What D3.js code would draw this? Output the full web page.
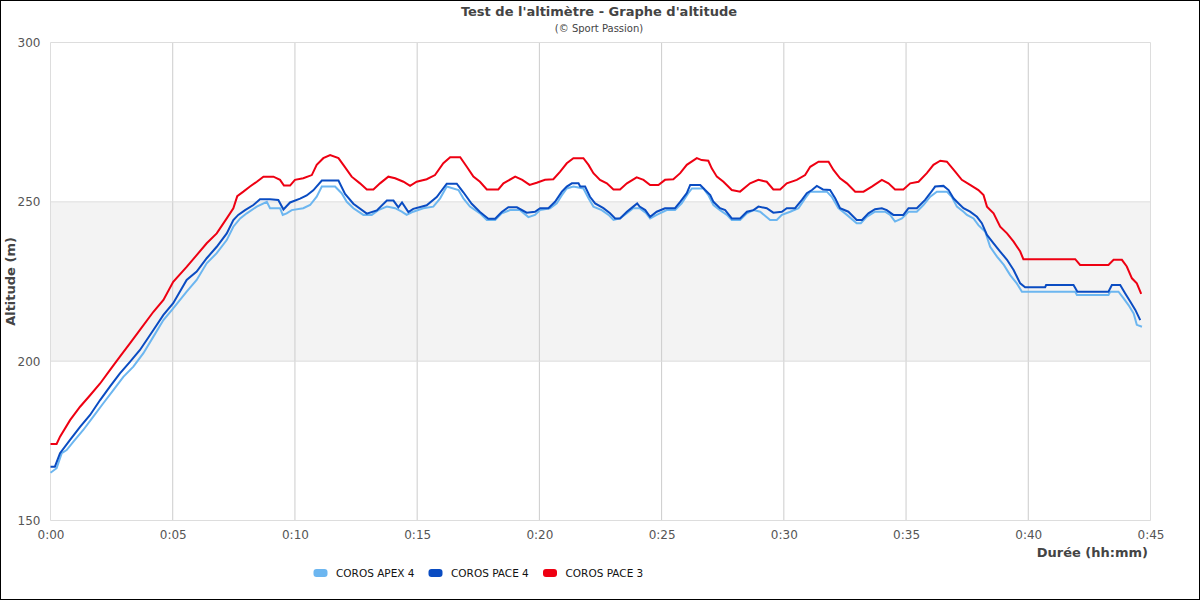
<!DOCTYPE html>
<html><head><meta charset="utf-8">
<script src="https://cdn.jsdelivr.net/npm/d3@7/dist/d3.min.js"></script>
<style>body{margin:0;background:#fff}svg{display:block}</style>
</head><body>
<svg id="chart" width="1200" height="600"></svg>
<script>
const chartTitle = "Test de l'altimètre - Graphe d'altitude";
const chartSubtitle = "(© Sport Passion)";
const seriesNames = ["COROS APEX 4", "COROS PACE 4", "COROS PACE 3"];
const xTicks = [0, 5, 10, 15, 20, 25, 30, 35, 40, 45];
const yTicks = [150, 200, 250, 300];

// [minutes, altitude m]
const apex4 = [[0,165],[0.25,166.4],[0.46,171.1],[0.66,172.1],[0.93,174.7],[1.34,178.4],[1.75,182.6],[2.16,186.8],[2.57,190.9],[2.98,195.1],[3.39,198.3],[3.8,202.5],[4.21,207.7],[4.62,212.9],[5.02,216.6],[5.57,221.8],[5.98,225.5],[6.39,230.7],[6.8,233.9],[7.21,238],[7.48,242.2],[7.76,244.8],[8.03,246.4],[8.44,248.5],[8.85,250],[8.98,248],[9.39,248],[9.5,245.9],[9.66,246.4],[9.87,247.4],[10.34,248],[10.62,249],[10.89,251.6],[11.1,254.8],[11.64,254.8],[11.91,252.7],[12.12,250],[12.39,248],[12.8,245.9],[13.14,245.9],[13.41,247.4],[13.76,248.5],[14.1,248],[14.37,246.9],[14.57,245.9],[14.84,246.9],[15.25,248],[15.66,248.5],[15.94,251.1],[16.21,254.8],[16.69,253.7],[16.89,251.1],[17.16,248.5],[17.57,246.4],[17.85,244.3],[18.19,244.3],[18.46,246.4],[18.8,247.4],[19.21,247.4],[19.55,245.2],[19.82,245.9],[20.03,247.4],[20.44,248],[20.71,249.5],[20.92,252.1],[21.12,254.2],[21.39,254.8],[21.8,254.2],[22.01,251.1],[22.21,248.5],[22.55,247.4],[22.83,245.9],[23.03,244.3],[23.3,244.8],[23.58,246.4],[23.84,248],[24.1,248],[24.37,246.4],[24.53,244.8],[24.8,245.9],[25.21,247.4],[25.55,247.4],[25.82,249.5],[26.09,252.7],[26.24,254.2],[26.71,254.2],[26.91,252.1],[27.12,249],[27.39,247.4],[27.67,245.9],[27.87,244.3],[28.21,244.3],[28.49,246.4],[28.76,247.4],[29.03,246.9],[29.44,244.3],[29.71,244.3],[29.92,245.9],[30.26,246.9],[30.6,248],[30.87,251.1],[31.08,253.2],[31.76,253.2],[31.96,251.6],[32.23,248],[32.58,245.9],[32.98,243.3],[33.15,243.3],[33.39,245.3],[33.73,246.9],[34.14,246.9],[34.35,245.9],[34.55,243.8],[34.83,244.8],[35.1,246.9],[35.44,246.9],[35.71,249],[35.99,251.6],[36.26,253.2],[36.67,253.2],[36.87,251.6],[37.08,248.5],[37.35,246.9],[37.49,245.9],[37.76,244.8],[37.96,242.7],[38.24,240.6],[38.44,235.9],[38.72,232.8],[39,230.2],[39.26,227],[39.53,224.4],[39.74,221.8],[41.92,221.8],[41.99,220.8],[43.28,220.8],[43.35,221.8],[43.69,221.8],[43.9,219.7],[44.1,217.6],[44.31,215],[44.44,211.4],[44.65,210.8]];

const pace4 = [[0,166.9],[0.18,166.9],[0.39,171.1],[0.8,175.3],[1.21,179.4],[1.62,183.1],[2.03,187.8],[2.43,192],[2.84,196.2],[3.25,199.8],[3.66,203.5],[4.21,209.8],[4.62,214.5],[5.02,218.2],[5.57,225.5],[5.98,228.1],[6.39,232.3],[6.8,235.9],[7.21,240.1],[7.48,244.3],[7.68,245.9],[7.96,247.4],[8.3,249],[8.57,250.8],[8.98,250.8],[9.32,250.6],[9.53,247.6],[9.8,249.8],[10.21,251],[10.48,252],[10.75,253.6],[11.1,256.7],[11.78,256.7],[12.05,252.5],[12.39,249.4],[12.94,246.3],[13.35,247.3],[13.76,250.4],[14.03,250.4],[14.23,248.3],[14.38,249.8],[14.64,246.8],[14.84,247.8],[15.39,248.9],[15.8,251.5],[16.21,255.7],[16.62,255.7],[16.89,253],[17.23,249.4],[17.57,246.8],[17.91,244.7],[18.19,244.7],[18.46,246.8],[18.73,248.3],[19.08,248.3],[19.48,246.6],[19.82,246.9],[20.03,248],[20.37,248],[20.64,250],[20.92,253.2],[21.12,254.8],[21.33,255.8],[21.6,255.8],[21.67,254.8],[21.87,254.8],[22.07,251.6],[22.28,249.5],[22.62,248],[22.89,246.4],[23.1,244.8],[23.3,244.8],[23.58,246.9],[23.84,248.5],[24,249.5],[24.1,248.5],[24.33,247.4],[24.53,245.3],[24.8,246.9],[25.14,248],[25.55,248],[25.76,250],[26.03,252.7],[26.17,255.3],[26.58,255.3],[26.78,253.7],[26.99,252.1],[27.12,250],[27.39,248],[27.6,247.4],[27.87,244.8],[28.21,244.8],[28.49,246.9],[28.76,247.4],[28.96,248.5],[29.3,248],[29.57,246.6],[29.92,246.9],[30.12,248],[30.46,248],[30.74,250.6],[30.94,252.7],[31.15,253.7],[31.35,255],[31.6,253.9],[31.89,253.7],[32.1,251.1],[32.3,248],[32.64,246.9],[32.98,244.3],[33.2,244.3],[33.46,246.4],[33.73,247.7],[34.01,248],[34.21,247.4],[34.48,245.9],[34.89,245.9],[35.1,248],[35.44,248],[35.78,250.6],[35.99,252.7],[36.19,254.8],[36.53,255],[36.74,253.7],[36.94,251.1],[37.15,249.5],[37.35,248],[37.62,246.9],[37.9,245.3],[38.1,243.3],[38.31,239.6],[38.58,237],[38.85,234.4],[39.13,231.8],[39.4,228.6],[39.67,224.4],[39.87,223.2],[40.69,223.2],[40.73,223.9],[41.85,223.9],[42.01,221.8],[43.28,221.8],[43.42,223.9],[43.76,223.9],[43.96,221.3],[44.17,218.7],[44.38,216.1],[44.58,212.9]];

const pace3 = [[0,174],[0.25,174],[0.39,176.3],[0.8,181.5],[1.21,185.7],[1.62,189.3],[2.03,193],[2.43,197.2],[2.84,201.4],[3.25,205.6],[3.66,209.8],[4.21,215.5],[4.62,219.2],[5.02,224.9],[5.57,229.6],[5.98,233.3],[6.39,237],[6.8,240.1],[7.21,244.8],[7.48,248],[7.64,251.8],[7.89,253.2],[8.16,254.8],[8.44,256.3],[8.71,257.9],[9.12,257.9],[9.39,256.9],[9.55,255.1],[9.8,255.1],[10,256.9],[10.34,257.4],[10.69,258.4],[10.89,261.6],[11.16,263.7],[11.44,264.7],[11.78,263.7],[11.98,261.6],[12.32,257.9],[12.66,255.8],[12.94,253.9],[13.21,253.9],[13.48,255.8],[13.82,257.9],[14.1,257.4],[14.44,256.3],[14.71,255],[14.98,256.3],[15.39,257.1],[15.73,258.4],[16.07,262.1],[16.35,264],[16.76,264],[17.03,261],[17.3,257.9],[17.57,256.3],[17.85,253.9],[18.32,253.9],[18.53,255.8],[19.01,257.9],[19.3,256.9],[19.6,255.3],[19.89,256],[20.23,256.9],[20.57,257.1],[20.85,259.5],[21.12,262.1],[21.39,263.7],[21.8,263.7],[22.01,261.6],[22.21,259],[22.48,256.9],[22.76,255.8],[23.03,253.9],[23.3,253.9],[23.58,255.8],[23.98,257.7],[24.26,256.9],[24.53,255.3],[24.87,255.3],[25.14,256.9],[25.48,257.1],[25.76,259],[26.03,261.6],[26.44,263.7],[26.64,263.1],[26.91,262.9],[27.05,260.5],[27.26,257.9],[27.53,256.3],[27.87,253.7],[28.21,253.2],[28.62,255.8],[28.96,256.9],[29.3,256.3],[29.57,253.9],[29.85,253.9],[30.12,255.8],[30.53,256.9],[30.87,258.4],[31.08,261],[31.42,262.6],[31.83,262.6],[32.03,260],[32.3,257.4],[32.58,255.8],[32.92,253.2],[33.26,253.2],[33.6,254.8],[34.01,256.9],[34.28,255.8],[34.55,253.9],[34.89,253.9],[35.17,255.8],[35.51,256.3],[35.85,259],[36.12,261.6],[36.4,262.9],[36.67,262.6],[37.01,259.5],[37.28,256.9],[37.62,255.3],[37.96,253.7],[38.17,252.1],[38.31,248.5],[38.58,246.4],[38.85,242.2],[39.13,240.1],[39.4,237.5],[39.67,234.4],[39.8,232],[41.92,232],[42.12,230.2],[43.28,230.2],[43.49,231.8],[43.83,231.8],[44.03,229.7],[44.24,226],[44.44,224.4],[44.62,221.1]];

const seriesData = [apex4, pace4, pace3];
const seriesColors = ["#6cb6f0", "#0a4cc2", "#ee0012"];

const svg = d3.select("#chart");
const font = "DejaVu Sans, sans-serif";

svg.append("rect").attr("x", 0.5).attr("y", 0.5).attr("width", 1199).attr("height", 599)
  .attr("fill", "#fff").attr("stroke", "#000").attr("stroke-width", 1);

const x = d3.scaleLinear().domain([0, 45]).range([50.5, 1150.5]);
const y = d3.scaleLinear().domain([150, 300]).range([520.5, 42.5]);

// shaded band
svg.append("rect").attr("x", x(0)).attr("y", y(250)).attr("width", x(45) - x(0))
  .attr("height", y(200) - y(250)).attr("fill", "#f3f3f3");

// vertical grid
svg.append("g").selectAll("line").data(xTicks.filter(d => d > 0 && d < 45)).join("line")
  .attr("x1", d => x(d)).attr("x2", d => x(d)).attr("y1", y(300)).attr("y2", y(150))
  .attr("stroke", "#cccccc").attr("stroke-width", 1);

// horizontal grid
svg.append("g").selectAll("line").data(yTicks).join("line")
  .attr("x1", x(0)).attr("x2", x(45)).attr("y1", d => y(d)).attr("y2", d => y(d))
  .attr("stroke", "#dddddd").attr("stroke-width", 1);

// plot border left/right
svg.append("line").attr("x1", x(0)).attr("x2", x(0)).attr("y1", y(300)).attr("y2", y(150)).attr("stroke", "#dddddd");
svg.append("line").attr("x1", x(45)).attr("x2", x(45)).attr("y1", y(300)).attr("y2", y(150)).attr("stroke", "#dddddd");

// axes
const xAxis = d3.axisBottom(x).tickValues(xTicks).tickSize(0).tickPadding(10)
  .tickFormat(d => "0:" + String(d).padStart(2, "0"));
const gx = svg.append("g").attr("transform", `translate(0,${y(150)})`).call(xAxis);
gx.select(".domain").remove();
gx.selectAll("text").attr("font-family", font).attr("font-size", 12).attr("fill", "#555");

const yAxis = d3.axisLeft(y).tickValues(yTicks).tickSize(0).tickPadding(10);
const gy = svg.append("g").attr("transform", `translate(${x(0)},0)`).call(yAxis);
gy.select(".domain").remove();
gy.selectAll("text").attr("font-family", font).attr("font-size", 12).attr("fill", "#555");

// lines
const line = d3.line().x(d => x(d[0])).y(d => y(d[1])).curve(d3.curveLinear);
svg.append("g").selectAll("path").data(seriesData).join("path")
  .attr("d", line).attr("fill", "none")
  .attr("stroke", (d, i) => seriesColors[i]).attr("stroke-width", 2)
  .attr("stroke-linejoin", "miter");

// titles
svg.append("text").attr("x", 599).attr("y", 15.5).attr("text-anchor", "middle")
  .attr("font-family", font).attr("font-size", 13).attr("font-weight", "bold").attr("fill", "#444")
  .text(chartTitle);
svg.append("text").attr("x", 599).attr("y", 31.5).attr("text-anchor", "middle")
  .attr("font-family", font).attr("font-size", 10).attr("fill", "#444")
  .text(chartSubtitle);

svg.append("text").attr("transform", `translate(14.5,${(y(300) + y(150)) / 2}) rotate(-90)`)
  .attr("text-anchor", "middle").attr("font-family", font).attr("font-size", 13)
  .attr("font-weight", "bold").attr("fill", "#444").text("Altitude (m)");

svg.append("text").attr("x", 1148).attr("y", 557).attr("text-anchor", "end")
  .attr("font-family", font).attr("font-size", 13).attr("font-weight", "bold").attr("fill", "#444")
  .text("Durée (hh:mm)");

// legend
const legendX = [313.5, 428.5, 543];
const lg = svg.append("g").selectAll("g").data(seriesNames).join("g")
  .attr("transform", (d, i) => `translate(${legendX[i]},573)`);
lg.append("rect").attr("x", 0).attr("y", -4).attr("width", 14).attr("height", 8).attr("rx", 3)
  .attr("fill", (d, i) => seriesColors[i]);
lg.append("text").attr("x", 22.5).attr("y", 3.8).attr("font-family", font).attr("font-size", 10.5)
  .attr("fill", "#111").text(d => d);
</script>
</body></html>
